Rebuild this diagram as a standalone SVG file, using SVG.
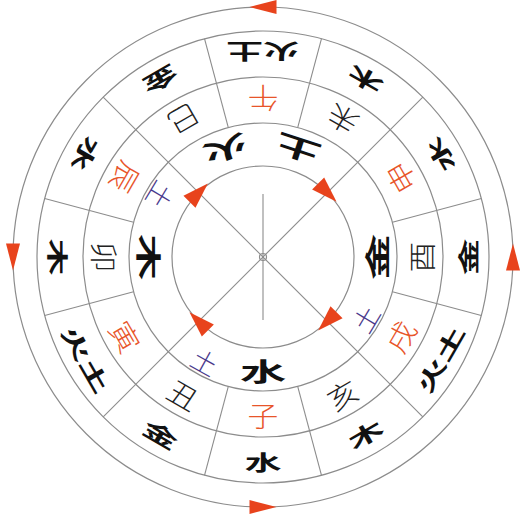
<svg xmlns="http://www.w3.org/2000/svg" width="527" height="518" viewBox="0 0 527 518">
<style>
.ring{fill:none;stroke:#8c8c8c;stroke-width:1.2}
.dv{stroke:#8c8c8c;stroke-width:1.1}
text{font-family:"Noto Sans CJK SC","Noto Sans CJK TC",sans-serif;text-anchor:middle;dominant-baseline:central}
.o{font-weight:700;font-size:21px;fill:#111}
.m{font-weight:300;font-size:28px;fill:#222}
.mo{font-weight:300;font-size:28px;fill:#e8552a}
.i{font-weight:700;font-size:25px;fill:#111}
.p{font-weight:300;font-size:26px;fill:#4a3a8c}
.arr{fill:#e8431c}
</style>
<defs>
<path id="ao" class="arr" d="M13.5,0 L-13.5,-7 L-13.5,7 Z"/>
<path id="ai" class="arr" d="M13,0 L-13,-8.5 L-13,8.5 Z"/>
</defs>
<rect width="527" height="518" fill="#fff"/>
<g id="circles">
<circle class="ring" cx="263" cy="257" r="250"/>
<circle class="ring" cx="263" cy="257" r="226"/>
<circle class="ring" cx="263" cy="257" r="180"/>
<circle class="ring" cx="263" cy="257" r="134"/>
<circle class="ring" cx="263" cy="257" r="91"/>
<circle class="ring" cx="263" cy="257" r="3.5"/>
<circle cx="263" cy="257" r="1" fill="#8c8c8c"/>
</g>
<g id="connectors">
<line class="dv" x1="103.2" y1="97.2" x2="422.8" y2="416.8"/>
<line class="dv" x1="422.8" y1="97.2" x2="103.2" y2="416.8"/>
<line class="dv" x1="263" y1="194" x2="263" y2="320"/>
<g id="dividers">
<line class="dv" x1="397" y1="257" x2="489" y2="257" transform="rotate(15 263 257)"/>
<line class="dv" x1="397" y1="257" x2="489" y2="257" transform="rotate(75 263 257)"/>
<line class="dv" x1="397" y1="257" x2="489" y2="257" transform="rotate(105 263 257)"/>
<line class="dv" x1="397" y1="257" x2="489" y2="257" transform="rotate(165 263 257)"/>
<line class="dv" x1="397" y1="257" x2="489" y2="257" transform="rotate(195 263 257)"/>
<line class="dv" x1="397" y1="257" x2="489" y2="257" transform="rotate(255 263 257)"/>
<line class="dv" x1="397" y1="257" x2="489" y2="257" transform="rotate(285 263 257)"/>
<line class="dv" x1="397" y1="257" x2="489" y2="257" transform="rotate(345 263 257)"/>
</g>
<g id="outer-arrows">
<use href="#ao" transform="rotate(0 263 257) translate(513 257) rotate(-90)"/>
<use href="#ao" transform="rotate(90 263 257) translate(513 257) rotate(-90)"/>
<use href="#ao" transform="rotate(180 263 257) translate(513 257) rotate(-90)"/>
<use href="#ao" transform="rotate(270 263 257) translate(513 257) rotate(-90)"/>
</g>
<g id="inner-arrows">
<use href="#ai" transform="rotate(45 263 257) translate(354 257) rotate(90)"/>
<use href="#ai" transform="rotate(135 263 257) translate(354 257) rotate(90)"/>
<use href="#ai" transform="rotate(225 263 257) translate(354 257) rotate(90)"/>
<use href="#ai" transform="rotate(315 263 257) translate(354 257) rotate(90)"/>
</g>
</g>
<g id="outer-ring">
<text class="o" transform="rotate(180 263 257) translate(263 461) scale(1.75 1)">火土</text>
<text class="o" transform="rotate(210 263 257) translate(263 461) scale(1.75 1)">木</text>
<text class="o" transform="rotate(240 263 257) translate(263 461) scale(1.75 1)">水</text>
<text class="o" transform="rotate(270 263 257) translate(263 461) scale(1.75 1)">金</text>
<text class="o" transform="rotate(300 263 257) translate(263 461) scale(1.75 1)">火土</text>
<text class="o" transform="rotate(330 263 257) translate(263 461) scale(1.75 1)">木</text>
<text class="o" transform="rotate(0 263 257) translate(263 461) scale(1.75 1)">水</text>
<text class="o" transform="rotate(30 263 257) translate(263 461) scale(1.75 1)">金</text>
<text class="o" transform="rotate(60 263 257) translate(263 461) scale(1.75 1)">火土</text>
<text class="o" transform="rotate(90 263 257) translate(263 461) scale(1.75 1)">木</text>
<text class="o" transform="rotate(120 263 257) translate(263 461) scale(1.75 1)">水</text>
<text class="o" transform="rotate(150 263 257) translate(263 461) scale(1.75 1)">金</text>
</g>
<g id="branch-ring">
<text class="mo" transform="rotate(180 263 257) translate(263 415) scale(1.1 1)">午</text>
<text class="m" transform="rotate(210 263 257) translate(263 415) scale(1.1 1)">未</text>
<text class="mo" transform="rotate(240 263 257) translate(263 415) scale(1.1 1)">申</text>
<text class="m" transform="rotate(270 263 257) translate(263 415) scale(1.1 1)">酉</text>
<text class="mo" transform="rotate(300 263 257) translate(263 415) scale(1.1 1)">戌</text>
<text class="m" transform="rotate(330 263 257) translate(263 415) scale(1.1 1)">亥</text>
<text class="mo" transform="rotate(0 263 257) translate(263 415) scale(1.1 1)">子</text>
<text class="m" transform="rotate(30 263 257) translate(263 415) scale(1.1 1)">丑</text>
<text class="mo" transform="rotate(60 263 257) translate(263 415) scale(1.1 1)">寅</text>
<text class="m" transform="rotate(90 263 257) translate(263 415) scale(1.1 1)">卯</text>
<text class="mo" transform="rotate(120 263 257) translate(263 415) scale(1.1 1)">辰</text>
<text class="m" transform="rotate(150 263 257) translate(263 415) scale(1.1 1)">巳</text>
</g>
<g id="inner-ring">
<text class="i" transform="rotate(161 263 257) translate(263 370) scale(1.85 1)">火</text>
<text class="i" transform="rotate(198 263 257) translate(263 370) scale(1.85 1)">土</text>
<text class="i" transform="rotate(270 263 257) translate(263 370) scale(1.85 1)">金</text>
<text class="p" transform="rotate(301 263 257) translate(263 376)">土</text>
<text class="i" transform="rotate(0 263 257) translate(263 370) scale(1.85 1)">水</text>
<text class="p" transform="rotate(29 263 257) translate(263 376)">土</text>
<text class="i" transform="rotate(90 263 257) translate(263 370) scale(1.85 1)">木</text>
<text class="p" transform="rotate(121 263 257) translate(263 376)">土</text>
</g>
</svg>
